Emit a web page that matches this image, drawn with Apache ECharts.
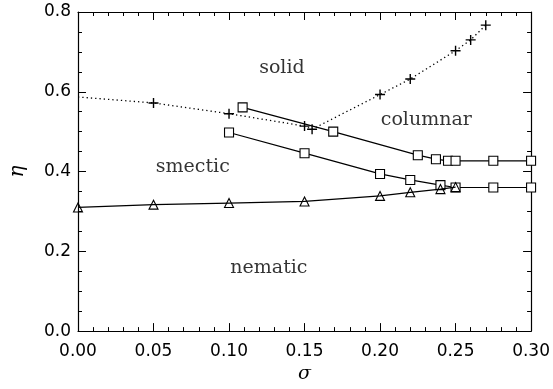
<!DOCTYPE html>
<html>
<head>
<meta charset="utf-8">
<script src="https://cdn.jsdelivr.net/npm/echarts@6/dist/echarts.min.js"></script>
<style>
  html, body { margin: 0; padding: 0; background: #fff; }
  #chart { width: 553px; height: 389px; }
</style>
</head>
<body>
<div id="chart"></div>
<script>
// solid boundary (dotted, + markers); first point at sigma=0 has no marker
var solidX = [0.000, 0.050, 0.100, 0.150, 0.155, 0.200, 0.220, 0.250, 0.260, 0.270];
var solidY = [0.587, 0.572, 0.545, 0.514, 0.506, 0.593, 0.632, 0.703, 0.730, 0.767];

// columnar upper boundary (squares)
var colUpX = [0.109, 0.169, 0.225, 0.237, 0.245, 0.250, 0.275, 0.300];
var colUpY = [0.561, 0.500, 0.441, 0.431, 0.427, 0.427, 0.427, 0.427];

// smectic / columnar lower boundary (squares)
var colLoX = [0.100, 0.150, 0.200, 0.220, 0.240, 0.250, 0.275, 0.300];
var colLoY = [0.498, 0.446, 0.394, 0.379, 0.366, 0.360, 0.360, 0.360];

// nematic boundary (triangles)
var nemX = [0.000, 0.050, 0.100, 0.150, 0.200, 0.220, 0.240, 0.250];
var nemY = [0.310, 0.317, 0.321, 0.325, 0.339, 0.348, 0.356, 0.361];

// phase region labels
var phaseNames = ['solid', 'columnar', 'smectic', 'nematic'];
var phaseX = [0.135, 0.2306, 0.076, 0.1264];
var phaseY = [0.659, 0.529, 0.410, 0.159];

var xTicks = { min: 0, max: 0.3, interval: 0.05 };
var yTicks = { min: 0, max: 0.8, interval: 0.2 };

function pairs(xs, ys) {
    var out = [];
    for (var i = 0; i < xs.length; i++) out.push([xs[i], ys[i]]);
    return out;
}

var plus = 'path://M4.3,0H5.7V4.3H10V5.7H5.7V10H4.3V5.7H0V4.3H4.3Z';

var solidData = pairs(solidX, solidY).map(function (p, i) {
    return i === 0 ? { value: p, symbol: 'none' } : p;
});

var labelData = phaseNames.map(function (n, i) {
    return { name: n, value: [phaseX[i], phaseY[i]] };
});

function baseAxis(t, pos, showLabel, dec) {
    return {
        type: 'value',
        position: pos,
        min: t.min, max: t.max, interval: t.interval,
        axisLine: { show: true, onZero: false, lineStyle: { color: '#000', width: 1.2 } },
        axisTick: { show: true, inside: true, length: 8, lineStyle: { color: '#000', width: 1 } },
        minorTick: { show: true, splitNumber: dec === 2 ? 5 : 4, length: 4, lineStyle: { color: '#000', width: 1 } },
        splitLine: { show: false },
        axisLabel: {
            show: showLabel,
            color: '#000',
            fontFamily: 'DejaVu Sans',
            fontSize: 17,
            margin: dec === 2 ? 12 : 7,
            formatter: function (v) { return v.toFixed(dec); }
        }
    };
}

var chart = echarts.init(document.getElementById('chart'), null, { renderer: 'canvas' });

var xMain = baseAxis(xTicks, 'bottom', true, 2);
xMain.name = 'σ';
xMain.nameLocation = 'middle';
xMain.nameGap = 32;
xMain.nameTextStyle = { color: '#000', fontFamily: 'DejaVu Serif', fontStyle: 'italic', fontSize: 19 };

var yMain = baseAxis(yTicks, 'left', true, 1);
yMain.name = 'η';
yMain.nameLocation = 'middle';
yMain.nameGap = 50;
yMain.nameTextStyle = { color: '#000', fontFamily: 'DejaVu Serif', fontStyle: 'italic', fontSize: 20 };

var xTop = baseAxis(xTicks, 'top', false, 2);
var yRight = baseAxis(yTicks, 'right', false, 1);

chart.setOption({
    backgroundColor: '#fff',
    animation: false,
    grid: { left: 74, right: 21, top: 12, bottom: 49 },
    xAxis: [xMain, xTop],
    yAxis: [yMain, yRight],
    series: [
        {
            type: 'line',
            data: solidData,
            symbol: plus,
            symbolSize: 10,
            itemStyle: { color: '#000' },
            lineStyle: { color: '#000', width: 1.3, type: [1.3, 3] },
            z: 3
        },
        {
            type: 'line',
            data: pairs(colUpX, colUpY),
            symbol: 'rect',
            symbolSize: 9,
            itemStyle: { color: '#fff', borderColor: '#000', borderWidth: 1.1 },
            lineStyle: { color: '#000', width: 1.2 },
            z: 4
        },
        {
            type: 'line',
            data: pairs(colLoX, colLoY),
            symbol: 'rect',
            symbolSize: 9,
            itemStyle: { color: '#fff', borderColor: '#000', borderWidth: 1.1 },
            lineStyle: { color: '#000', width: 1.2 },
            z: 4
        },
        {
            type: 'line',
            data: pairs(nemX, nemY),
            symbol: 'triangle',
            symbolSize: 9,
            itemStyle: { color: 'rgba(255,255,255,0)', borderColor: '#000', borderWidth: 1.1 },
            lineStyle: { color: '#000', width: 1.2 },
            z: 5
        },
        {
            type: 'scatter',
            data: labelData,
            symbol: 'circle',
            symbolSize: 1,
            silent: true,
            itemStyle: { color: 'rgba(0,0,0,0)' },
            label: {
                show: true,
                position: 'inside',
                formatter: '{b}',
                color: '#000',
                fontFamily: 'DejaVu Serif',
                fontSize: 19
            },
            z: 6
        }
    ]
});
</script>
</body>
</html>
